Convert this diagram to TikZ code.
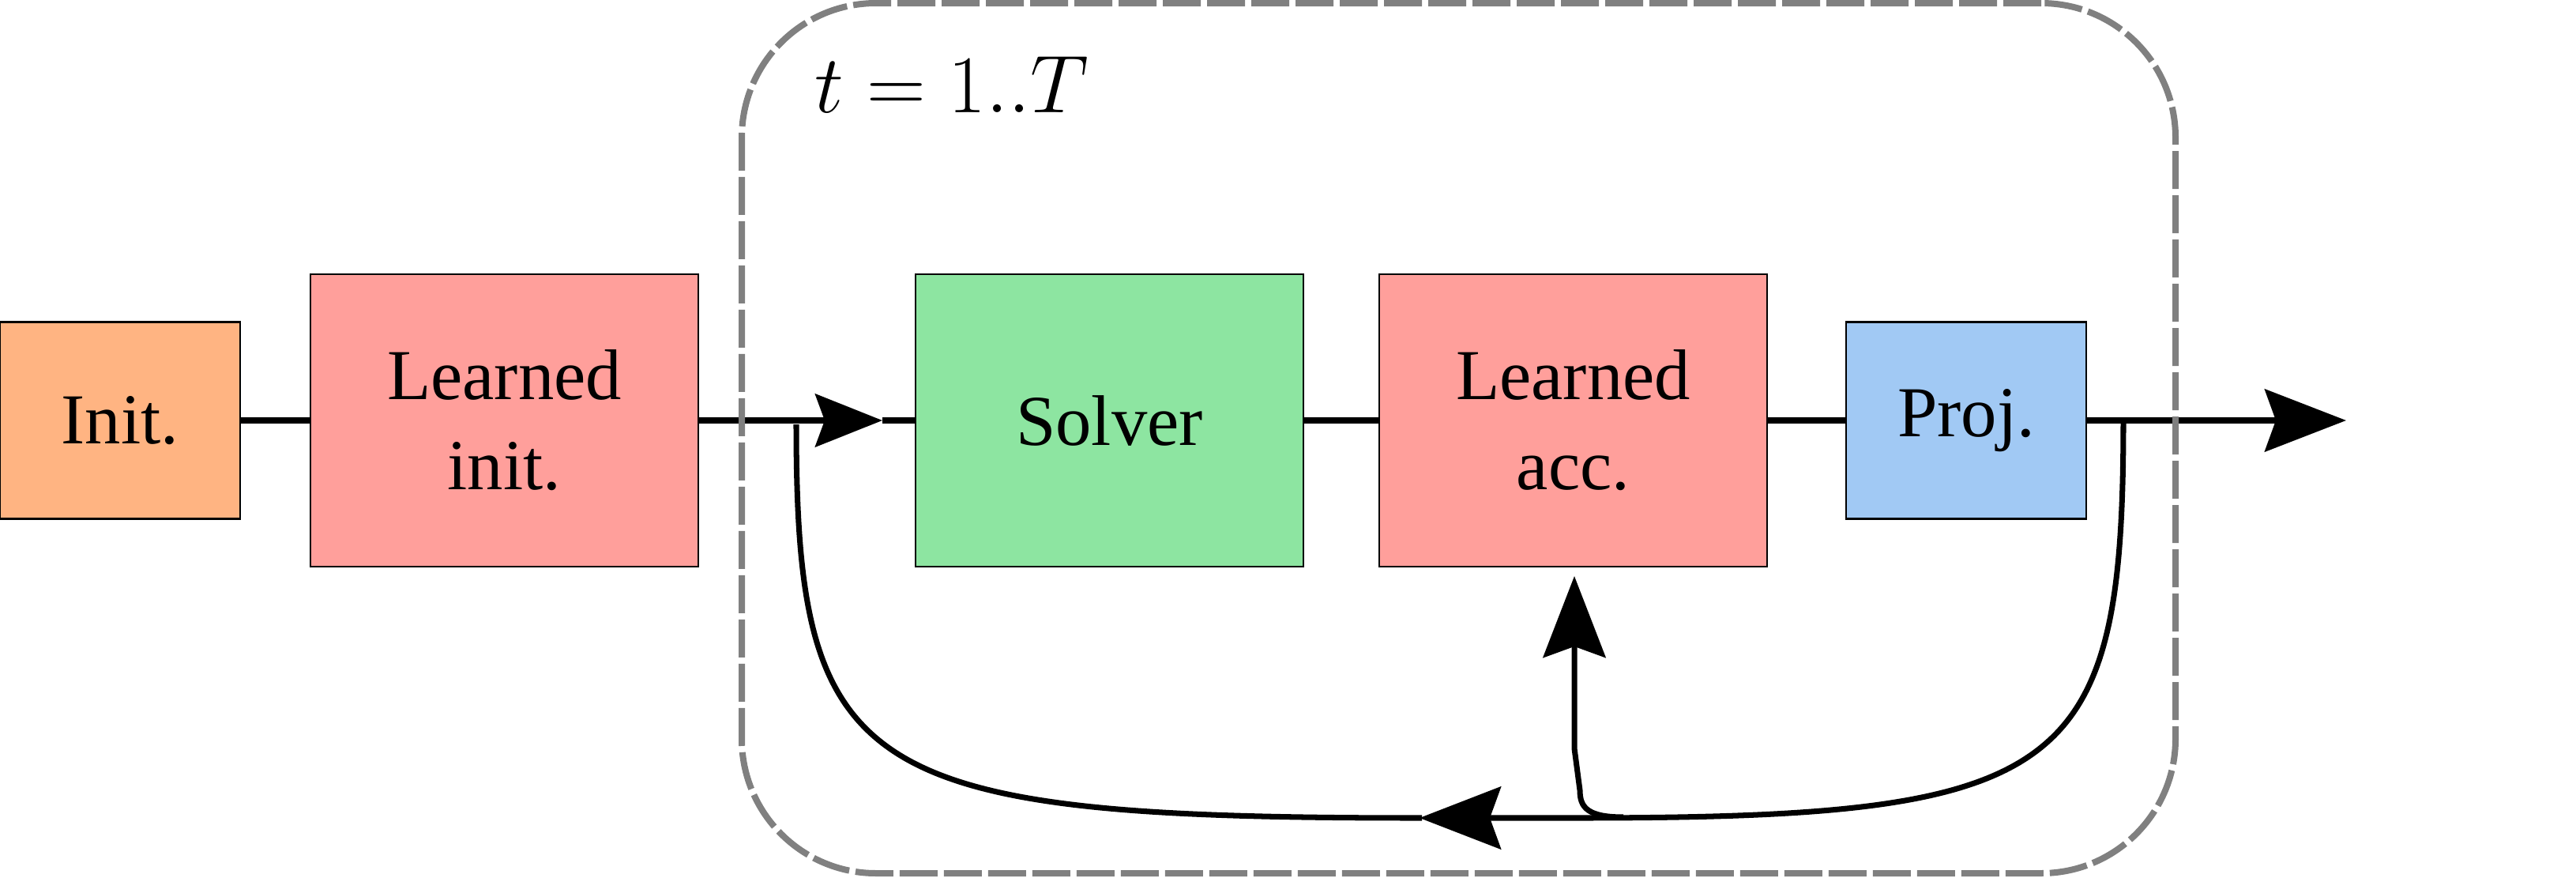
\RequirePackage{fix-cm}
\documentclass[tikz,border=0pt]{standalone}
\usepackage{fontspec}
\setmainfont{Liberation Serif}
\usepackage{tikz}
\usetikzlibrary{arrows.meta,positioning}
\definecolor{initc}{RGB}{255,180,130}
\definecolor{learnc}{RGB}{255,159,155}
\definecolor{solvc}{RGB}{141,229,161}
\definecolor{projc}{RGB}{161,201,244}
\definecolor{loopc}{RGB}{128,128,128}
\tikzset{blk/.style={draw=black,line width=0.8pt,minimum height=2.49cm,align=center,font=\fontsize{25.8}{32.4}\selectfont,inner sep=3pt,outer sep=0pt},smallblk/.style={blk,minimum width=3.04cm},bigblk/.style={blk,minimum width=4.91cm,minimum height=3.7cm},link/.style={line width=2pt},flow/.style={link,-{Stealth[length=1.03cm,width=0.79cm,inset=0.14cm]}},loopbox/.style={draw=loopc,line width=0.08cm,rounded corners=1.7cm,dash pattern=on 0.48cm off 0.08cm}}

\begin{document}
\begin{tikzpicture}[node distance=0.9cm]
\useasboundingbox (0,0) rectangle (32.61,11.10);
\node[smallblk,fill=initc] (init) at (1.52,5.78) {Init.};
\node[bigblk,fill=learnc,right=0.89cm of init] (linit) {Learned\\init.};
\node[bigblk,fill=solvc,right=2.75cm of linit] (solver) {Solver};
\node[bigblk,fill=learnc,right=0.96cm of solver] (acc) {Learned\\acc.};
\node[smallblk,fill=projc,right=1cm of acc] (proj) {Proj.};
\coordinate (join) at (11.17,5.78);
\coordinate (out) at (29.70,5.78);
\coordinate (fbr) at (26.88,5.81);
\coordinate (fbm) at (19.93,0.75);
\coordinate (fba) at (17.97,0.75);
\coordinate (fbb) at (18.00,0.75);
\coordinate (fbl) at (10.08,5.73);
\coordinate (upb) at (20.55,0.76);
\coordinate (upk) at (20.00,1.10);
\coordinate (upv) at (19.93,1.63);
\coordinate (uptip) at ([yshift=-0.12cm]acc.south);
\draw[link] (init)--(linit);\draw[link,-{Stealth[length=0.85cm,width=0.67cm,inset=0.12cm]}] (linit)--(join);\draw[link] (join)--(solver);
\draw[link] (solver)--(acc);\draw[link] (acc)--(proj);\draw[flow] (proj)--(out);
% feedback loop
\draw[flow] (fbr) .. controls +(0,-4.55) and +(6.25,0) .. (fbm) -- (fba);
\draw[link] (fbb) .. controls +(-7.13,0) and +(0,-4.48) .. (fbl);
\draw[flow] (upb) .. controls +(-0.45,0) and +(0,-0.22) .. (upk) -- (upv) -- (upv|-uptip);
\node[loopbox,minimum width=18.15cm,minimum height=11.01cm] (loop) at (18.465,5.555) {};
\node[anchor=base west,inner sep=0pt,font=\fontsize{29.5}{35}\selectfont] (iters) at (10.31,9.68) {$t=1..T$};
\end{tikzpicture}
\end{document}
